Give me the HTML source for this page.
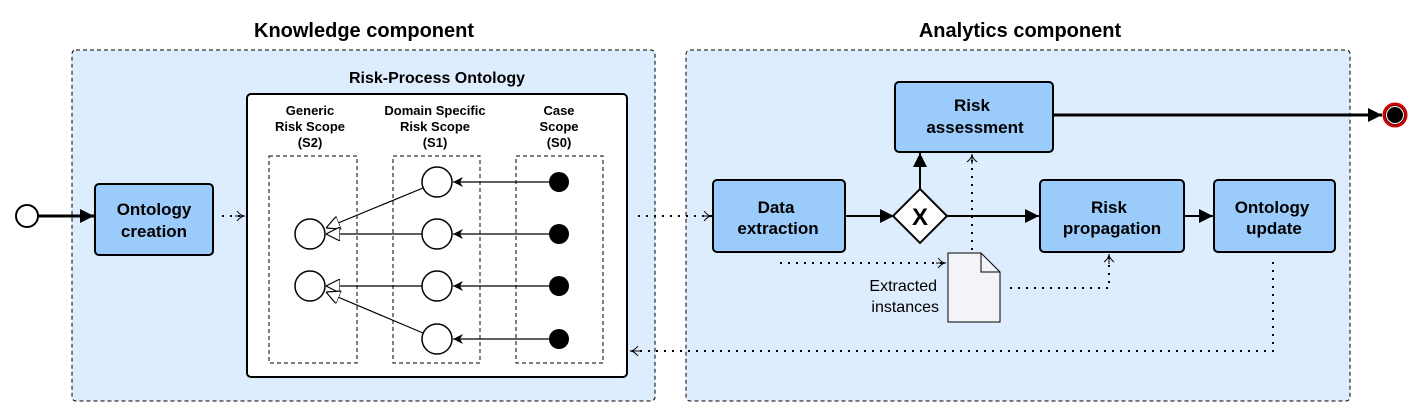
<!DOCTYPE html>
<html><head><meta charset="utf-8"><style>
html,body{margin:0;padding:0;background:#fff;}
svg{display:block;font-family:"Liberation Sans",sans-serif;}
.b{font-weight:bold;}
</style></head><body>
<svg width="1427" height="418" viewBox="0 0 1427 418" xmlns="http://www.w3.org/2000/svg">
<defs>
<marker id="fa" viewBox="0 0 10 10" refX="10" refY="5" markerWidth="10" markerHeight="10" markerUnits="userSpaceOnUse" orient="auto"><path d="M0,0L10,5L0,10L3,5z" fill="#000"/></marker>
<marker id="fb" viewBox="0 0 10 10" refX="10" refY="5" markerWidth="14" markerHeight="14" markerUnits="userSpaceOnUse" orient="auto"><path d="M0,0L10,5L0,10z" fill="#000"/></marker>
<marker id="oa" viewBox="0 0 10 10" refX="10" refY="5" markerWidth="10" markerHeight="12" markerUnits="userSpaceOnUse" orient="auto"><path d="M2,0Q6,5 10,5Q6,5 2,10M0,5L10,5" fill="none" stroke="#000" stroke-width="1"/></marker>
<marker id="tri" viewBox="0 0 12 12" refX="12" refY="6" markerWidth="14" markerHeight="14" markerUnits="userSpaceOnUse" orient="auto"><path d="M0,0L12,6L0,12z" fill="#fff" stroke="#000" stroke-width="1"/></marker>
</defs>
<text x="364" y="37" text-anchor="middle" class="b" font-size="20">Knowledge component</text>
<text x="1020" y="37" text-anchor="middle" class="b" font-size="20">Analytics component</text>
<rect x="72" y="50" width="583" height="351" rx="4" fill="#deedfd" stroke="#000" stroke-dasharray="4,3"/>
<rect x="686" y="50" width="664" height="351" rx="4" fill="#deedfd" stroke="#000" stroke-dasharray="4,3"/>

<circle cx="27" cy="216" r="11" fill="#fff" stroke="#000" stroke-width="2"/>
<line x1="38" y1="216" x2="94" y2="216" stroke="#000" stroke-width="3" marker-end="url(#fb)"/>
<rect x="95" y="184" width="118" height="71" rx="4" fill="#9acbfb" stroke="#000" stroke-width="2"/>
<text x="154" y="215" text-anchor="middle" class="b" font-size="17">Ontology</text>
<text x="154" y="237" text-anchor="middle" class="b" font-size="17">creation</text>
<line x1="222" y1="216" x2="245" y2="216" stroke="#000" stroke-width="2" stroke-dasharray="2,6" marker-end="url(#oa)"/>

<text x="437" y="83" text-anchor="middle" class="b" font-size="16">Risk-Process Ontology</text>
<rect x="247" y="94" width="380" height="283" rx="4" fill="#fff" stroke="#000" stroke-width="2"/>
<g class="b" font-size="13" text-anchor="middle">
<text x="310" y="115">Generic</text><text x="310" y="131">Risk Scope</text><text x="310" y="147">(S2)</text>
<text x="435" y="115">Domain Specific</text><text x="435" y="131">Risk Scope</text><text x="435" y="147">(S1)</text>
<text x="559" y="115">Case</text><text x="559" y="131">Scope</text><text x="559" y="147">(S0)</text>
</g>
<g fill="none" stroke="#000" stroke-dasharray="4,3">
<rect x="269" y="156" width="88" height="207"/>
<rect x="393" y="156" width="87" height="207"/>
<rect x="516" y="156" width="87" height="207"/>
</g>
<g stroke="#000" stroke-width="1.2">
<line x1="550" y1="182" x2="453" y2="182" marker-end="url(#fa)"/>
<line x1="550" y1="234" x2="453" y2="234" marker-end="url(#fa)"/>
<line x1="550" y1="286" x2="453" y2="286" marker-end="url(#fa)"/>
<line x1="550" y1="339" x2="453" y2="339" marker-end="url(#fa)"/>
<line x1="423" y1="188" x2="326" y2="228" marker-end="url(#tri)"/>
<line x1="422" y1="234" x2="326" y2="234" marker-end="url(#tri)"/>
<line x1="422" y1="286" x2="326" y2="286" marker-end="url(#tri)"/>
<line x1="423" y1="333" x2="326" y2="292" marker-end="url(#tri)"/>
</g>
<g fill="#fff" stroke="#000" stroke-width="1.5">
<circle cx="310" cy="234" r="15"/><circle cx="310" cy="286" r="15"/>
<circle cx="437" cy="182" r="15"/><circle cx="437" cy="234" r="15"/>
<circle cx="437" cy="286" r="15"/><circle cx="437" cy="339" r="15"/>
</g>
<g fill="#000">
<circle cx="559" cy="182" r="10"/><circle cx="559" cy="234" r="10"/>
<circle cx="559" cy="286" r="10"/><circle cx="559" cy="339" r="10"/>
</g>

<line x1="638" y1="216" x2="712" y2="216" stroke="#000" stroke-width="2" stroke-dasharray="2,6" marker-end="url(#oa)"/>
<rect x="713" y="180" width="132" height="72" rx="4" fill="#9acbfb" stroke="#000" stroke-width="2"/>
<text x="776" y="213" text-anchor="middle" class="b" font-size="17">Data</text>
<text x="778" y="234" text-anchor="middle" class="b" font-size="17">extraction</text>
<line x1="846" y1="216" x2="894" y2="216" stroke="#000" stroke-width="2" marker-end="url(#fb)"/>
<path d="M920,189L947,216L920,243L893,216z" fill="#fff" stroke="#000" stroke-width="2"/>
<text x="920" y="225" text-anchor="middle" font-size="24" class="b">X</text>
<line x1="920" y1="189" x2="920" y2="153" stroke="#000" stroke-width="2" marker-end="url(#fb)"/>
<line x1="947" y1="216" x2="1039" y2="216" stroke="#000" stroke-width="2" marker-end="url(#fb)"/>
<rect x="895" y="82" width="158" height="70" rx="4" fill="#9acbfb" stroke="#000" stroke-width="2"/>
<text x="972" y="111" text-anchor="middle" class="b" font-size="17">Risk</text>
<text x="975" y="133" text-anchor="middle" class="b" font-size="17">assessment</text>
<line x1="1054" y1="115" x2="1382" y2="115" stroke="#000" stroke-width="3" marker-end="url(#fb)"/>
<circle cx="1395" cy="115" r="11" fill="#000" stroke="#c00" stroke-width="3"/>
<circle cx="1395" cy="115" r="8.5" fill="#000" stroke="#fff" stroke-width="1"/>
<rect x="1040" y="180" width="144" height="72" rx="4" fill="#9acbfb" stroke="#000" stroke-width="2"/>
<text x="1109" y="213" text-anchor="middle" class="b" font-size="17">Risk</text>
<text x="1112" y="234" text-anchor="middle" class="b" font-size="17">propagation</text>
<line x1="1185" y1="216" x2="1213" y2="216" stroke="#000" stroke-width="2" marker-end="url(#fb)"/>
<rect x="1214" y="180" width="121" height="72" rx="4" fill="#9acbfb" stroke="#000" stroke-width="2"/>
<text x="1272" y="213" text-anchor="middle" class="b" font-size="17">Ontology</text>
<text x="1274" y="234" text-anchor="middle" class="b" font-size="17">update</text>

<g fill="none" stroke="#000" stroke-width="2" stroke-dasharray="2,6">
<path d="M780,263L946,263" marker-end="url(#oa)"/>
<path d="M1010,288L1109,288L1109,254" marker-end="url(#oa)"/>
<path d="M972,250L972,154" marker-end="url(#oa)"/>
<path d="M1273,262L1273,351L630,351" marker-end="url(#oa)"/>
</g>
<path d="M948,253L981,253L1000,272L1000,322L948,322z" fill="#f2f4f8" stroke="#000" stroke-width="1"/>
<path d="M981,253L981,272L1000,272" fill="none" stroke="#000" stroke-width="1"/>
<text x="937" y="291" text-anchor="end" font-size="16">Extracted</text>
<text x="939" y="312" text-anchor="end" font-size="16">instances</text>
</svg>
</body></html>
